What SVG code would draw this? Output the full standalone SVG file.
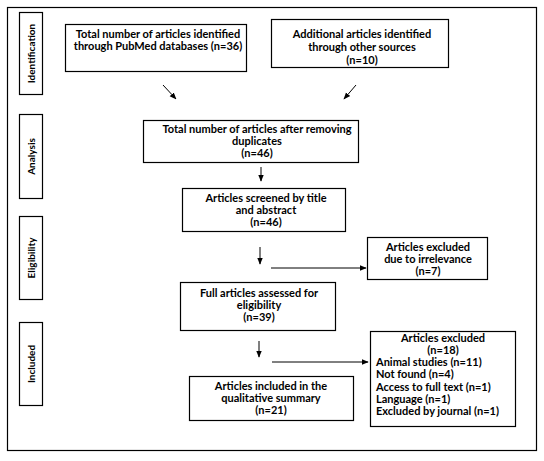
<svg xmlns="http://www.w3.org/2000/svg" width="544" height="461" viewBox="0 0 544 461">
<defs>
<style>
.b{fill:#fff;stroke:#000;stroke-width:1.2}
.t{font-family:"Lato","Liberation Sans",sans-serif;font-weight:bold;font-size:11px;fill:#000}
.s{font-size:10px}
.c{text-anchor:middle}
.l{stroke:#000;stroke-width:1;fill:none}
</style>
<marker id="ah" viewBox="0 0 10 10" refX="9" refY="5" markerWidth="7" markerHeight="7" orient="auto" markerUnits="userSpaceOnUse">
<path d="M0,1 L10,5 L0,9 z" fill="#000"/>
</marker>
</defs>
<rect x="0" y="0" width="544" height="461" fill="#fff"/>
<rect x="7.5" y="7.5" width="529" height="443" fill="none" stroke="#000" stroke-width="1.2"/>
<g id="stage-identification"><rect class="b" x="19.5" y="12.5" width="23" height="82"/><text class="t s c" transform="translate(34.5,53.5) rotate(-90)">Identification</text></g>
<g id="stage-analysis"><rect class="b" x="19.5" y="114.5" width="23" height="84"/><text class="t s c" transform="translate(34.5,156.5) rotate(-90)">Analysis</text></g>
<g id="stage-eligibility"><rect class="b" x="19.5" y="216.5" width="23" height="83"/><text class="t s c" transform="translate(34.5,258) rotate(-90)">Eligibility</text></g>
<g id="stage-included"><rect class="b" x="19.5" y="322.5" width="23" height="83"/><text class="t s c" transform="translate(34.5,364) rotate(-90)">Included</text></g>
<g id="pubmed"><rect class="b" x="65.5" y="24.5" width="181" height="47"/><text class="t c" x="158" y="38">Total number of articles identified</text><text class="t c" x="158" y="50">through PubMed databases (n=36)</text></g>
<g id="other"><rect class="b" x="271.5" y="19.5" width="177" height="48"/><text class="t c" x="362" y="38">Additional articles identified</text><text class="t c" x="362" y="51">through other sources</text><text class="t c" x="362" y="64">(n=10)</text></g>
<g id="dedup"><rect class="b" x="143.5" y="120.5" width="215" height="42"/><text class="t c" x="257" y="133">Total number of articles after removing</text><text class="t c" x="257" y="145">duplicates</text><text class="t c" x="257" y="157">(n=46)</text></g>
<g id="screened"><rect class="b" x="182.5" y="188.5" width="163" height="43"/><text class="t c" x="266" y="202">Articles screened by title</text><text class="t c" x="266" y="214">and abstract</text><text class="t c" x="266" y="226">(n=46)</text></g>
<g id="excl1"><rect class="b" x="367.5" y="237.5" width="120" height="42"/><text class="t c" x="428" y="251">Articles excluded</text><text class="t c" x="428" y="263">due to irrelevance</text><text class="t c" x="428" y="275">(n=7)</text></g>
<g id="full"><rect class="b" x="180.5" y="282.5" width="155" height="48"/><text class="t c" x="259" y="297">Full articles assessed for</text><text class="t c" x="259" y="309">eligibility</text><text class="t c" x="259" y="321">(n=39)</text></g>
<g id="included"><rect class="b" x="189.5" y="376.5" width="164" height="44"/><text class="t c" x="271" y="390">Articles included in the</text><text class="t c" x="271" y="402">qualitative summary</text><text class="t c" x="271" y="414">(n=21)</text></g>
<g id="excl2"><rect class="b" x="370.5" y="331.5" width="145" height="95"/><text class="t c" x="443" y="342">Articles excluded</text><text class="t c" x="443" y="354">(n=18)</text><text class="t" x="376" y="366">Animal studies (n=11)</text><text class="t" x="376" y="378">Not found (n=4)</text><text class="t" x="376" y="391">Access to full text (n=1)</text><text class="t" x="376" y="403">Language (n=1)</text><text class="t" x="376" y="415">Excluded by journal (n=1)</text></g>
<g id="connectors">
<line class="l" x1="163" y1="85" x2="176" y2="99" marker-end="url(#ah)"/>
<line class="l" x1="356" y1="85" x2="344" y2="99" marker-end="url(#ah)"/>
<line class="l" x1="261" y1="167" x2="261" y2="181" marker-end="url(#ah)"/>
<line class="l" x1="260" y1="247" x2="260" y2="264" marker-end="url(#ah)"/>
<line class="l" x1="271" y1="268" x2="366" y2="268" marker-end="url(#ah)"/>
<line class="l" x1="259" y1="341" x2="259" y2="357" marker-end="url(#ah)"/>
<line class="l" x1="272" y1="362" x2="368" y2="362" marker-end="url(#ah)"/>
</g>
</svg>
